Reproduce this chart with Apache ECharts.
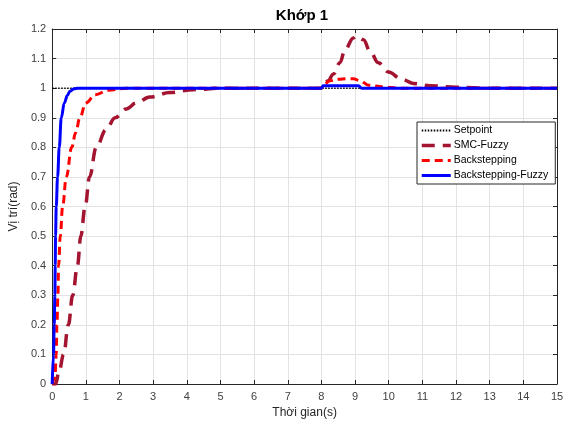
<!DOCTYPE html>
<html><head><meta charset="utf-8">
<script src="https://cdn.jsdelivr.net/npm/echarts@6/dist/echarts.min.js"></script>
<style>html,body{margin:0;padding:0;background:#fff}#c{width:570px;height:424px}</style>
</head><body><div id="c"></div>
<script>
var seriesNames = ['Setpoint', 'SMC-Fuzzy', 'Backstepping', 'Backstepping-Fuzzy'];
var xTicks = [0,1,2,3,4,5,6,7,8,9,10,11,12,13,14,15];
var yTicks = [0,0.1,0.2,0.3,0.4,0.5,0.6,0.7,0.8,0.9,1,1.1,1.2];

var tSet = [0, 15];
var vSet = [1, 1];

var tSmc = [0, 0.1, 0.2, 0.34, 0.48, 0.61, 0.75, 0.85, 0.98, 1.11, 1.31, 1.6, 1.87, 2.2, 2.5, 2.9, 3.5, 4.2, 5, 8, 8.2, 8.35, 8.55, 8.7, 8.95, 9.05, 9.25, 9.44, 9.69, 9.99, 10.39, 10.73, 11.23, 12, 13, 15];
var vSmc = [0, 0, 0.04, 0.1, 0.2, 0.3, 0.4, 0.5, 0.6, 0.7, 0.8, 0.86, 0.9, 0.93, 0.95, 0.97, 0.985, 0.995, 1, 1, 1.025, 1.047, 1.086, 1.13, 1.17, 1.176, 1.164, 1.126, 1.086, 1.055, 1.03, 1.016, 1.008, 1.003, 1, 1];

var tBs = [0, 0.08, 0.12, 0.14, 0.17, 0.19, 0.24, 0.31, 0.42, 0.58, 0.7, 0.82, 1.0, 1.28, 1.67, 2.2, 8, 8.06, 8.26, 8.5, 8.75, 8.95, 9.15, 9.4, 9.84, 10.3, 15];
var vBs = [0, 0.02, 0.1, 0.2, 0.3, 0.4, 0.5, 0.6, 0.7, 0.8, 0.85, 0.9, 0.95, 0.978, 0.993, 1, 1, 1.013, 1.025, 1.03, 1.032, 1.032, 1.025, 1.01, 1.004, 1, 1];

var tBf = [0, 0.04, 0.06, 0.08, 0.09, 0.1, 0.12, 0.16, 0.21, 0.27, 0.36, 0.45, 0.53, 0.65, 0.75, 8, 8.05, 9.1, 9.2, 15];
var vBf = [0, 0.1, 0.2, 0.3, 0.4, 0.5, 0.6, 0.7, 0.8, 0.9, 0.95, 0.975, 0.99, 0.998, 1, 1, 1.008, 1.008, 1, 1];

function pairs(t, v) { return t.map(function (x, i) { return [x, v[i]]; }); }

var FONT = 'Liberation Sans, Arial, sans-serif';
var chart = echarts.init(document.getElementById('c'), null, {renderer: 'canvas'});
var axisCommon = {
  axisLine: {show: true, onZero: false, lineStyle: {color: '#262626', width: 1}},
  axisTick: {show: true, inside: true, length: 4, lineStyle: {color: '#262626'}},
  splitLine: {show: false}
};
var legendWidths = [2, 3.5, 3, 3];
chart.setOption({
  animation: false,
  backgroundColor: '#fff',
  graphic: [{type: 'text', x: 302, y: 8, style: {text: 'Khớp 1', font: 'bold 15px ' + FONT, fill: '#000', align: 'center', textAlign: 'center'}}],
  grid: {left: 52, right: 13, top: 29, bottom: 38, containLabel: false},
  legend: {
    orient: 'vertical', left: 417, top: 122,
    data: seriesNames.map(function (n, i) { return {name: n, lineStyle: {width: legendWidths[i]}}; }),
    backgroundColor: '#fff', borderColor: '#262626', borderWidth: 1, borderRadius: 0,
    padding: [3, 7, 3, 3], itemGap: 4, itemWidth: 29, itemHeight: 10,
    itemStyle: {opacity: 0},
    textStyle: {fontFamily: FONT, fontSize: 10.5, color: '#000', padding: [0, 0, 0, -2]}
  },
  xAxis: [
    Object.assign({type: 'value', min: 0, max: 15, interval: 1,
      name: 'Thời gian(s)', nameLocation: 'middle', nameGap: 23,
      nameTextStyle: {fontFamily: FONT, fontSize: 12, color: '#262626'},
      axisLabel: {fontFamily: FONT, fontSize: 11, color: '#404040', margin: 7,
        formatter: function (v) { return String(xTicks[Math.round(v)]); }},
      splitLine: {show: true, lineStyle: {color: '#e3e3e3', width: 1}}
    }, {axisLine: axisCommon.axisLine, axisTick: axisCommon.axisTick}),
    Object.assign({type: 'value', min: 0, max: 15, interval: 1, position: 'top',
      axisLabel: {show: false}}, axisCommon)
  ],
  yAxis: [
    Object.assign({type: 'value', min: 0, max: 1.2, interval: 0.1,
      name: 'Vị trí(rad)', nameLocation: 'middle', nameGap: 26, nameRotate: 90,
      nameTextStyle: {fontFamily: FONT, fontSize: 12, color: '#262626'},
      axisLabel: {fontFamily: FONT, fontSize: 11, color: '#404040', margin: 6,
        formatter: function (v) { return String(yTicks[Math.round(v * 10)]); }},
      splitLine: {show: true, lineStyle: {color: '#e3e3e3', width: 1}}
    }, {axisLine: axisCommon.axisLine, axisTick: axisCommon.axisTick}),
    Object.assign({type: 'value', min: 0, max: 1.2, interval: 0.1, position: 'right',
      axisLabel: {show: false}}, axisCommon)
  ],
  series: [
    {name: seriesNames[0], type: 'line', symbol: 'none', data: pairs(tSet, vSet),
      lineStyle: {color: '#000', width: 1.5, type: [1.5, 1.5]}, itemStyle: {color: '#000'}, z: 2},
    {name: seriesNames[1], type: 'line', symbol: 'none', smooth: 0.4, smoothMonotone: 'x', data: pairs(tSmc, vSmc),
      lineStyle: {color: '#A2142F', width: 3.5, type: [13, 8]}, itemStyle: {color: '#A2142F'}, z: 3},
    {name: seriesNames[2], type: 'line', symbol: 'none', smooth: 0.4, smoothMonotone: 'x', data: pairs(tBs, vBs),
      lineStyle: {color: '#FF0000', width: 3, type: [8, 5]}, itemStyle: {color: '#FF0000'}, z: 4},
    {name: seriesNames[3], type: 'line', symbol: 'none', smooth: 0.4, smoothMonotone: 'x', data: pairs(tBf, vBf),
      lineStyle: {color: '#0000FF', width: 3}, itemStyle: {color: '#0000FF'}, z: 5}
  ]
});
</script></body></html>
